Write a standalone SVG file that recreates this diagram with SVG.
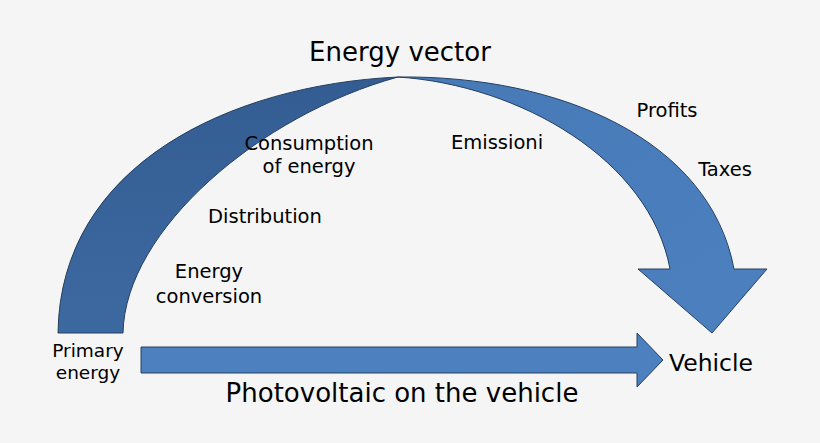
<svg xmlns="http://www.w3.org/2000/svg" width="820" height="443" viewBox="0 0 820 443">
<defs>
<linearGradient id="gLeft" x1="0" y1="0" x2="0" y2="1">
<stop offset="0" stop-color="#335d92"/>
<stop offset="1" stop-color="#3d69a1"/>
</linearGradient>
<linearGradient id="gRight" x1="0" y1="0" x2="1" y2="1">
<stop offset="0" stop-color="#4679b6"/>
<stop offset="1" stop-color="#4d80bf"/>
</linearGradient>
</defs>
<style>
.lbl{font-family:"DejaVu Sans","Verdana",sans-serif;fill:#000;text-anchor:middle}
.shape{stroke:#24405f;stroke-width:1;stroke-linejoin:miter}
</style>
<rect width="820" height="443" fill="#f5f5f5"/>
<g id="connectors">
<path id="arc-left" class="shape" fill="url(#gLeft)" d="M58,333 C60,165 230,85 398,77 C260,115 125,230 123,333 Z"/>
<path id="arc-right" class="shape" fill="url(#gRight)" d="M398,77 C560,75 710,140 734,269 L767,269 L712,333 L638,269 L670,269 C650,160 520,85 398,77 Z"/>
<path id="straight-arrow" class="shape" fill="#4d80bf" d="M141,347 L637,347 L637,333 L663,360 L637,387 L637,373 L141,373 Z"/>
</g>
<g id="node-energy-vector"><text class="lbl" x="400" y="61" font-size="26">Energy vector</text></g>
<g id="node-consumption"><text class="lbl" x="309" y="150" font-size="19.5">Consumption</text><text class="lbl" x="309" y="173" font-size="19.5">of energy</text></g>
<g id="node-distribution"><text class="lbl" x="265" y="223" font-size="19.5">Distribution</text></g>
<g id="node-conversion"><text class="lbl" x="209" y="278" font-size="19.5">Energy</text><text class="lbl" x="209" y="303" font-size="19.5">conversion</text></g>
<g id="node-emissioni"><text class="lbl" x="497" y="149" font-size="19.5">Emissioni</text></g>
<g id="node-profits"><text class="lbl" x="667" y="117" font-size="19.5">Profits</text></g>
<g id="node-taxes"><text class="lbl" x="725" y="176" font-size="19.5">Taxes</text></g>
<g id="node-primary"><text class="lbl" x="88" y="357" font-size="18.5">Primary</text><text class="lbl" x="88" y="379" font-size="18.5">energy</text></g>
<g id="node-vehicle"><text class="lbl" x="711" y="371" font-size="23.5">Vehicle</text></g>
<g id="node-photovoltaic"><text class="lbl" x="402" y="402" font-size="26">Photovoltaic on the vehicle</text></g>
</svg>
